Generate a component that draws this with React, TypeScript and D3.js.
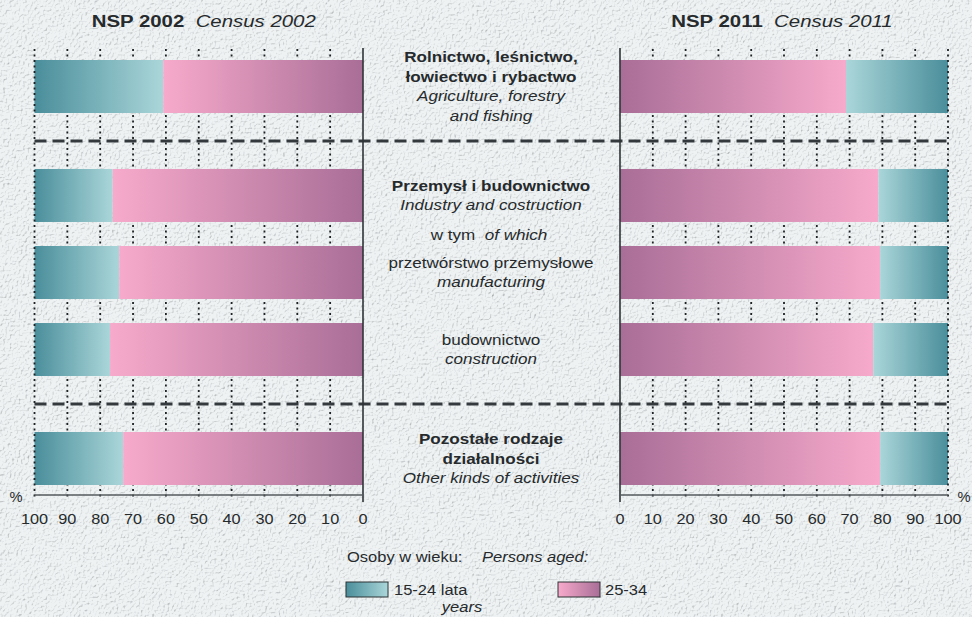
import React from "react";
import * as d3 from "d3";

const W = 972;
const H = 617;

// ---- data ----
const categories = ["agriculture", "industry", "manufacturing", "construction", "other"];
const groups = [0, 1, 1, 1, 2];
const age1524_2002 = [39.2, 23.8, 25.8, 23.0, 27.0];
const age2534_2002 = [60.8, 76.2, 74.2, 77.0, 73.0];
const age1524_2011 = [31.1, 21.2, 20.7, 22.8, 20.7];
const age2534_2011 = [68.9, 78.8, 79.3, 77.2, 79.3];
const ticks = [0, 10, 20, 30, 40, 50, 60, 70, 80, 90, 100];

type Line = { t: string; w?: "bold"; i?: boolean };
const labels: Line[][] = [
  [
    { t: "Rolnictwo, leśnictwo,", w: "bold" },
    { t: "łowiectwo i rybactwo", w: "bold" },
    { t: "Agriculture, forestry", i: true },
    { t: "and fishing", i: true },
  ],
  [
    { t: "Przemysł i budownictwo", w: "bold" },
    { t: "Industry and costruction", i: true },
  ],
  [{ t: "przetwórstwo przemysłowe" }, { t: "manufacturing", i: true }],
  [{ t: "budownictwo" }, { t: "construction", i: true }],
  [
    { t: "Pozostałe rodzaje", w: "bold" },
    { t: "działalności", w: "bold" },
    { t: "Other kinds of activities", i: true },
  ],
];

const FONT = "'Liberation Sans', Arial, Helvetica, sans-serif";
const INK = "#262a2c";
const TEAL_D = "#4a8e9b";
const TEAL_L = "#aad6d9";
const PINK_L = "#f7aacb";
const PINK_D = "#a96e97";

function T(props: {
  x: number;
  y: number;
  sx?: number;
  size: number;
  anchor?: string;
  weight?: string;
  italic?: boolean;
  children: React.ReactNode;
}) {
  const { x, y, sx = 1.2, size, anchor = "middle", weight, italic, children } = props;
  return (
    <text
      transform={`translate(${x},${y}) scale(${sx},1)`}
      textAnchor={anchor}
      fontSize={size}
      fontFamily={FONT}
      fontWeight={weight || "normal"}
      fontStyle={italic ? "italic" : "normal"}
      fill={INK}
    >
      {children}
    </text>
  );
}

export default function App() {
  const xL = d3.scaleLinear().domain([100, 0]).range([34.5, 363]);
  const xR = d3.scaleLinear().domain([0, 100]).range([620, 948]);
  const gapUnit = 0.415;
  const pos = categories.map((_, i) => i + gapUnit * groups[i]);
  const y = d3
    .scaleLinear()
    .domain([0, d3.max(pos) as number])
    .range([86.5, 458.5]);
  const barH = 53;
  const gridTop = 49;
  const axisY = 495;
  const gridBottom = 498;
  const centerX = 491;

  const seps: number[] = [];
  for (let i = 1; i < categories.length; i++) {
    if (groups[i] !== groups[i - 1]) {
      seps.push((y(pos[i - 1]) + barH / 2 + y(pos[i]) - barH / 2) / 2);
    }
  }

  const gridDash = "2,3.5";

  return (
    <svg
      width={W}
      height={H}
      style={{ position: "absolute", left: 0, top: 0, display: "block" }}
    >
      <defs>
        <linearGradient id="tealL" x1="0" x2="1" y1="0" y2="0">
          <stop offset="0" stopColor={TEAL_D} />
          <stop offset="1" stopColor={TEAL_L} />
        </linearGradient>
        <linearGradient id="tealR" x1="0" x2="1" y1="0" y2="0">
          <stop offset="0" stopColor={TEAL_L} />
          <stop offset="1" stopColor={TEAL_D} />
        </linearGradient>
        <linearGradient id="pinkL" x1="0" x2="1" y1="0" y2="0">
          <stop offset="0" stopColor={PINK_L} />
          <stop offset="1" stopColor={PINK_D} />
        </linearGradient>
        <linearGradient id="pinkR" x1="0" x2="1" y1="0" y2="0">
          <stop offset="0" stopColor={PINK_D} />
          <stop offset="1" stopColor={PINK_L} />
        </linearGradient>
        <filter id="paper" x="0" y="0" width="100%" height="100%" filterUnits="userSpaceOnUse">
          <feTurbulence type="fractalNoise" baseFrequency="0.45" numOctaves="3" seed="3" result="n" />
          <feDiffuseLighting in="n" lightingColor="#ffffff" surfaceScale="3" diffuseConstant="1.25" result="l">
            <feDistantLight azimuth="225" elevation="60" />
          </feDiffuseLighting>
        </filter>
      </defs>

      {/* background */}
      <rect x={0} y={0} width={W} height={H} fill="#e6ecee" />
      <rect x={0} y={0} width={W} height={H} filter="url(#paper)" opacity={0.35} />

      {/* titles */}
      <text
        transform={`translate(${(xL(100) + xL(0)) / 2 + 5},27) scale(1.2,1)`}
        textAnchor="middle"
        fontSize={17}
        fontFamily={FONT}
        fill={INK}
      >
        <tspan fontWeight="bold">NSP 2002</tspan>
        <tspan fontStyle="italic">{"\u00a0\u00a0Census 2002"}</tspan>
      </text>
      <text
        transform={`translate(${(xR(0) + xR(100)) / 2 - 2},27) scale(1.2,1)`}
        textAnchor="middle"
        fontSize={17}
        fontFamily={FONT}
        fill={INK}
      >
        <tspan fontWeight="bold">NSP 2011</tspan>
        <tspan fontStyle="italic">{"\u00a0\u00a0Census 2011"}</tspan>
      </text>

      {/* dotted gridlines (behind bars) */}
      {ticks
        .filter((t) => t > 0 && t < 100)
        .map((t) => (
          <g key={"g" + t}>
            <line x1={xL(t)} x2={xL(t)} y1={gridTop} y2={gridBottom} stroke="#1e2224" strokeWidth={1.8} strokeDasharray={gridDash} />
            <line x1={xR(t)} x2={xR(t)} y1={gridTop} y2={gridBottom} stroke="#1e2224" strokeWidth={1.8} strokeDasharray={gridDash} />
          </g>
        ))}

      {/* bars left (2002) */}
      {categories.map((c, i) => {
        const yc = y(pos[i]);
        const a = age2534_2002[i];
        const b = age1524_2002[i];
        return (
          <g key={"L" + c}>
            <rect x={xL(a + b)} y={yc - barH / 2} width={xL(a) - xL(a + b)} height={barH} fill="url(#tealL)" />
            <rect x={xL(a)} y={yc - barH / 2} width={xL(0) - xL(a)} height={barH} fill="url(#pinkL)" />
          </g>
        );
      })}
      {/* bars right (2011) */}
      {categories.map((c, i) => {
        const yc = y(pos[i]);
        const a = age2534_2011[i];
        const b = age1524_2011[i];
        return (
          <g key={"R" + c}>
            <rect x={xR(0)} y={yc - barH / 2} width={xR(a) - xR(0)} height={barH} fill="url(#pinkR)" />
            <rect x={xR(a)} y={yc - barH / 2} width={xR(a + b) - xR(a)} height={barH} fill="url(#tealR)" />
          </g>
        );
      })}

      {/* 100% edge gridlines */}
      <line x1={xL(100)} x2={xL(100)} y1={gridTop} y2={gridBottom} stroke="#1e2224" strokeWidth={1.8} strokeDasharray={gridDash} />
      <line x1={xR(100)} x2={xR(100)} y1={gridTop} y2={gridBottom} stroke="#1e2224" strokeWidth={1.8} strokeDasharray={gridDash} />

      {/* separators */}
      {seps.map((s, k) => (
        <line key={"s" + k} x1={xL(100)} x2={xR(100)} y1={s} y2={s} stroke="#33393c" strokeWidth={3.2} strokeDasharray="12,6" />
      ))}

      {/* zero axes */}
      <line x1={xL(0)} x2={xL(0)} y1={gridTop - 1} y2={axisY + 7} stroke="#2f3437" strokeWidth={1.6} />
      <line x1={xR(0)} x2={xR(0)} y1={gridTop - 1} y2={axisY + 7} stroke="#2f3437" strokeWidth={1.6} />

      {/* bottom axes */}
      <line x1={xL(100)} x2={xL(0)} y1={axisY} y2={axisY} stroke="#555b5e" strokeWidth={1.5} />
      <line x1={xR(0)} x2={xR(100)} y1={axisY} y2={axisY} stroke="#555b5e" strokeWidth={1.5} />

      {ticks.map((t) => (
        <g key={"tl" + t}>
          <T x={xL(t)} y={524} size={15.5} sx={1.05}>
            {String(t)}
          </T>
          <T x={xR(t)} y={524} size={15.5} sx={1.05}>
            {String(t)}
          </T>
        </g>
      ))}
      <T x={16} y={502} size={14} sx={1.05}>%</T>
      <T x={964} y={502} size={14} sx={1.05}>%</T>

      {/* category labels */}
      {labels.map((lines, i) => {
        const yc = y(pos[i]);
        const L = 19.5;
        const first = yc - ((lines.length - 1) * L) / 2 + 5;
        return (
          <g key={"lab" + i}>
            {lines.map((ln, k) => (
              <T key={k} x={centerX} y={first + k * L} size={14} sx={1.22} weight={ln.w} italic={ln.i}>
                {ln.t}
              </T>
            ))}
          </g>
        );
      })}
      <text
        transform={`translate(${centerX - 2},${(y(pos[1]) + y(pos[2])) / 2 + 6}) scale(1.22,1)`}
        textAnchor="middle"
        fontSize={14}
        fontFamily={FONT}
        fill={INK}
      >
        <tspan>w tym</tspan>
        <tspan fontStyle="italic">{"\u00a0\u00a0of which"}</tspan>
      </text>

      {/* legend */}
      <T x={347} y={562} size={15} sx={1.1} anchor="start">Osoby w wieku:</T>
      <T x={482} y={562} size={15} sx={1.1} anchor="start" italic>Persons aged:</T>
      <defs>
        <linearGradient id="legT" x1="0" x2="1" y1="0" y2="0">
          <stop offset="0" stopColor={TEAL_D} />
          <stop offset="1" stopColor={TEAL_L} />
        </linearGradient>
        <linearGradient id="legP" x1="0" x2="1" y1="0" y2="0">
          <stop offset="0" stopColor={PINK_L} />
          <stop offset="1" stopColor={PINK_D} />
        </linearGradient>
      </defs>
      <rect x={346} y={582} width={42} height={15} fill="url(#legT)" stroke="#2c3234" strokeWidth={1} />
      <T x={394} y={595} size={15} sx={1.1} anchor="start">15-24 lata</T>
      <T x={462} y={612} size={15} sx={1.1} italic>years</T>
      <rect x={558} y={582} width={42} height={15} fill="url(#legP)" stroke="#2c3234" strokeWidth={1} />
      <T x={605} y={595} size={15} sx={1.1} anchor="start">25-34</T>
    </svg>
  );
}
